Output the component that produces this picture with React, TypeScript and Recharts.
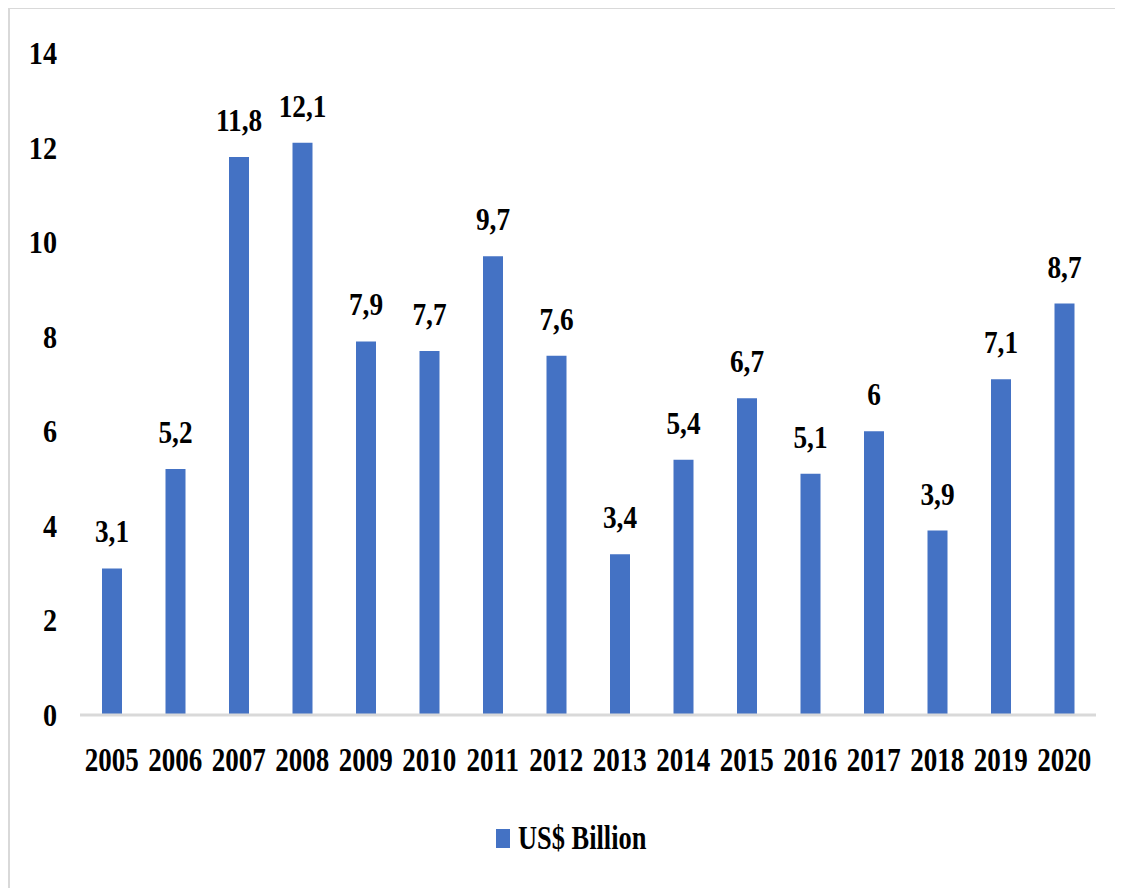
import React from 'react';
import { BarChart, Bar, XAxis, YAxis, Legend, LabelList } from 'recharts';

const years = ['2005', '2006', '2007', '2008', '2009', '2010', '2011', '2012', '2013', '2014', '2015', '2016', '2017', '2018', '2019', '2020'];
const values = [3.1, 5.2, 11.8, 12.1, 7.9, 7.7, 9.7, 7.6, 3.4, 5.4, 6.7, 5.1, 6, 3.9, 7.1, 8.7];
const yTicks = [0, 2, 4, 6, 8, 10, 12, 14];
const seriesName = 'US$ Billion';

const data = years.map((y, i) => ({ year: y, value: values[i] }));

const FONT = '"Liberation Serif", "Times New Roman", serif';
const BLUE = '#4472C4';

const fmt = (v: number) => String(v).replace('.', ',');

const XTick = (props: any) => {
  const { x, y, payload } = props;
  return (
    <g transform={`translate(${x},${y + 48}) scale(0.82,1)`}>
      <text x={0} y={0} textAnchor="middle" fontFamily={FONT} fontWeight="bold" fontSize={33} fill="#000">
        {payload.value}
      </text>
    </g>
  );
};

const YTick = (props: any) => {
  const { x, y, payload } = props;
  return (
    <g transform={`translate(${x - 15},${y + 11}) scale(0.88,1)`}>
      <text x={0} y={0} textAnchor="end" fontFamily={FONT} fontWeight="bold" fontSize={32} fill="#000">
        {payload.value}
      </text>
    </g>
  );
};

const ValueLabel = (props: any) => {
  const { x, y, width, value } = props;
  return (
    <g transform={`translate(${x + width / 2},${y - 26}) scale(0.88,1)`}>
      <text x={0} y={0} textAnchor="middle" fontFamily={FONT} fontWeight="bold" fontSize={31} fill="#000">
        {fmt(value)}
      </text>
    </g>
  );
};

const LegendContent = () => (
  <div style={{ paddingLeft: 488, height: 40, display: 'flex', alignItems: 'center' }}>
    <span style={{ display: 'inline-block', width: 14, height: 19, background: BLUE, marginRight: 8 }} />
    <span
      style={{
        fontFamily: FONT,
        fontWeight: 'bold',
        fontSize: 33,
        color: '#000',
        display: 'inline-block',
        transform: 'scaleX(0.8)',
        transformOrigin: 'left center',
        whiteSpace: 'nowrap',
      }}
    >
      {seriesName}
    </span>
  </div>
);

export default function App() {
  return (
    <div style={{ position: 'relative', width: 1115, height: 880, overflow: 'hidden', background: '#fff' }}>
      <div
        style={{
          position: 'absolute',
          left: -1,
          top: -2,
          width: 1200,
          height: 1000,
          borderLeft: '3px solid #d9d9d9',
          borderTop: '3px solid #d9d9d9',
          pointerEvents: 'none',
        }}
      />
      <BarChart
        width={1115}
        height={880}
        data={data}
        margin={{ top: 45, right: 27, left: 12, bottom: 30 }}
        barCategoryGap={0}
      >
        <XAxis
          dataKey="year"
          height={103}
          tickLine={false}
          axisLine={{ stroke: '#d9d9d9', strokeWidth: 3 }}
          tick={<XTick />}
          interval={0}
        />
        <YAxis
          width={60}
          domain={[0, 14]}
          ticks={yTicks}
          axisLine={false}
          tickLine={false}
          tick={<YTick />}
        />
        <Legend
          verticalAlign="bottom"
          height={40}
          wrapperStyle={{ left: 0, width: 1115 }}
          content={<LegendContent />}
        />
        <Bar dataKey="value" name={seriesName} fill={BLUE} barSize={20} isAnimationActive={false}>
          <LabelList dataKey="value" content={<ValueLabel />} />
        </Bar>
      </BarChart>
    </div>
  );
}
